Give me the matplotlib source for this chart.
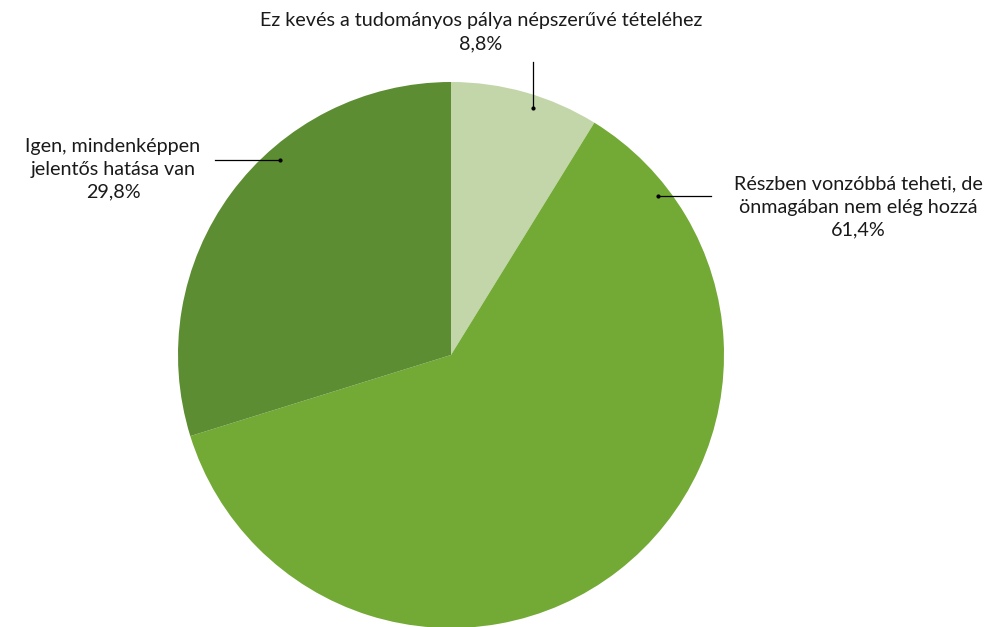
import numpy as np
import matplotlib.pyplot as plt

plt.rcParams['font.family'] = ['Lato', 'DejaVu Sans']

labels = ["Ez kevés a tudományos pálya népszerűvé tételéhez",
          "Részben vonzóbbá teheti, de\nönmagában nem elég hozzá",
          "Igen, mindenképpen\njelentős hatása van"]
values = [8.8, 61.4, 29.8]
colors = ["#c2d6a9", "#73a935", "#5c8d32"]

W, H = 987, 627
fig = plt.figure(figsize=(W / 100, H / 100), dpi=100)
ax = fig.add_axes([0, 0, 1, 1])

cx, cy, r = 451, H - 355, 273
ax.pie(values, colors=colors, startangle=90, counterclock=False,
       center=(cx, cy), radius=r, frame=True,
       wedgeprops=dict(linewidth=0))
ax.set_xlim(0, W)
ax.set_ylim(0, H)
ax.set_aspect('equal')
ax.axis('off')

# címkék: (szöveg pozíció, vonal vége a szeletben, vonal kezdete)
lab_pos = [(481, H - 32), (858, H - 207), (113, H - 169)]
dot_pos = [(533, H - 108), (658, H - 196), (280, H - 160)]
line_start = [(533, H - 62), (711, H - 196), (215, H - 160)]

for lab, v, tp, dp, lp in zip(labels, values, lab_pos, dot_pos, line_start):
    txt = lab + "\n" + f"{v:.1f}%".replace(".", ",")
    ax.text(tp[0], tp[1], txt, ha='center', va='center', fontsize=14.2,
            color='#1a1a1a', linespacing=1.42)
    ax.plot([lp[0], dp[0]], [lp[1], dp[1]], color='black', lw=0.9)
    ax.plot(dp[0], dp[1], 'o', color='black', ms=2)

fig.savefig("out.png", dpi=100)
